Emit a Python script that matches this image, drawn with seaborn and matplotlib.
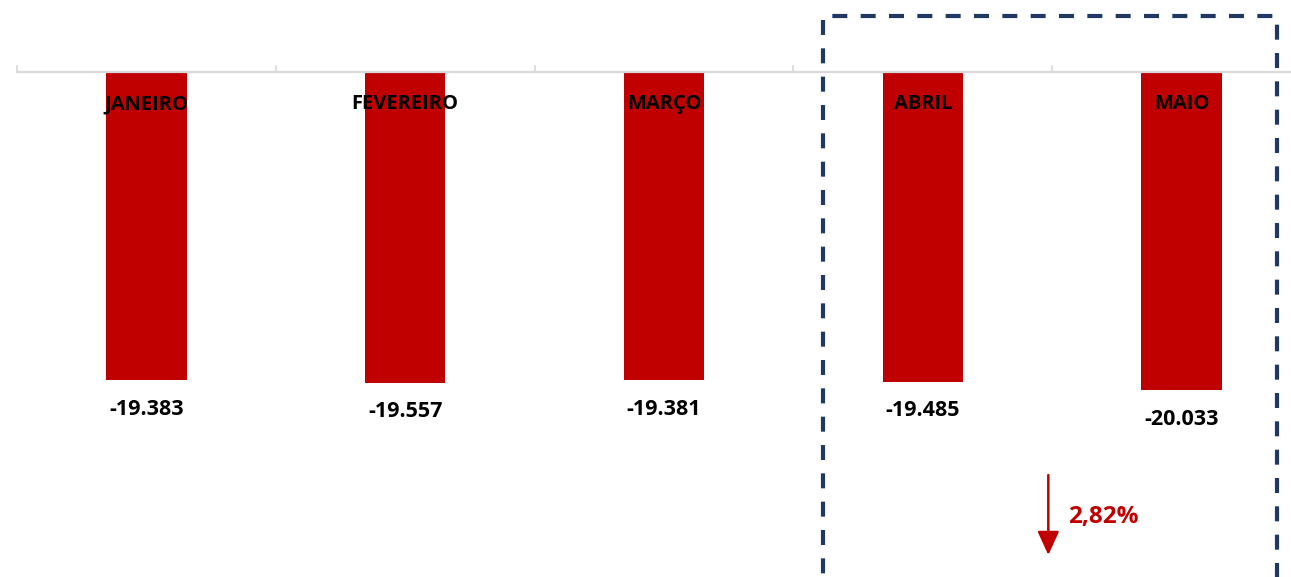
import numpy as np
import pandas as pd
import seaborn as sns
import matplotlib.pyplot as plt
from matplotlib.patches import Rectangle

months = ['JANEIRO', 'FEVEREIRO', 'MARÇO', 'ABRIL', 'MAIO']
values = [-19383, -19557, -19381, -19485, -20033]
change_label = '2,82%'

red = '#C00000'
navy = '#1F3864'

sns.set_theme(style='white')
plt.rcParams['font.family'] = ['Open Sans', 'DejaVu Sans']

df = pd.DataFrame({'Mes': months, 'Valor': values})

fig = plt.figure(figsize=(12.91, 5.77), dpi=100)
# axes run a bit past the right edge, like the source chart
ax = fig.add_axes([17 / 1291, 0, 1294 / 1291, 1])

sns.barplot(data=df, x='Mes', y='Valor', color=red, width=0.31,
            saturation=1, ax=ax, edgecolor='none')

ax.set_ylim(-31780, 4531)
ax.set_xlim(-0.5, 4.5)
for s in ['left', 'right', 'bottom']:
    ax.spines[s].set_visible(False)
ax.spines['top'].set_position(('data', 0))
ax.spines['top'].set_color('#D9D9D9')
ax.spines['top'].set_linewidth(1.6)
ax.xaxis.set_ticks_position('top')
ax.set_xticks(np.arange(len(months)) - 0.5)
ax.set_xticklabels([])
ax.tick_params(axis='x', direction='out', length=5, width=1.2, color='#D9D9D9', top=True)
ax.set_yticks([])
ax.set_xlabel('')
ax.set_ylabel('')

# category names inside the bars
for i, m in enumerate(months):
    ax.text(i, -2014, m, ha='center', va='center', fontsize=14.5,
            fontweight='bold', color='black')

# value labels below each bar
for i, v in enumerate(values):
    lbl = '{:,}'.format(v).replace(',', '.')
    ax.annotate(lbl, xy=(i, v), xytext=(0, -21), textcoords='offset points',
                ha='center', va='center', fontsize=15.5, fontweight='bold',
                color='black', annotation_clip=False)

# dashed highlight box around the last two months
box = Rectangle((2.615, -40000), 1.755, 43524, fill=False, edgecolor=navy,
                linewidth=3, linestyle=(0, (3.6, 3.2)), clip_on=False)
ax.add_patch(box)

# down arrow + percentage
ax.annotate('', xy=(3.485, -30396), xytext=(3.485, -25362),
            arrowprops=dict(arrowstyle='-|>,head_width=0.55,head_length=1.2',
                            color=red, lw=1.8, shrinkA=0, shrinkB=0))
ax.text(3.562, -28005, change_label, ha='left', va='center', fontsize=17.5,
        fontweight='bold', color=red)

plt.savefig('out.png', dpi=100)
